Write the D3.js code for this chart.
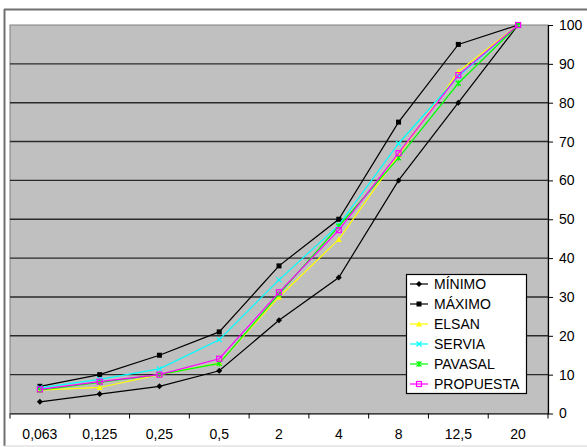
<!DOCTYPE html>
<html>
<head>
<meta charset="utf-8">
<script src="https://cdn.jsdelivr.net/npm/d3@7"></script>
<style>
  html, body { margin: 0; padding: 0; background: #ffffff; }
  svg { display: block; font-family: Arial, "Liberation Sans", sans-serif; }
</style>
</head>
<body>
<svg id="chart" width="587" height="447"></svg>
<script>
// Sieve sizes (mm) and passing percentages per curve
const categories = ["0,063", "0,125", "0,25", "0,5", "2", "4", "8", "12,5", "20"];
const yTicks = [0, 10, 20, 30, 40, 50, 60, 70, 80, 90, 100];

const minimo    = [3, 5, 7, 11, 24, 35, 60, 80, 100];
const maximo    = [7, 10, 15, 21, 38, 50, 75, 95, 100];
const elsan     = [6, 6.7, 10, 13, 30, 44.8, 66.5, 88, 100];
const servia    = [6.6, 8.8, 11.5, 19, 34.4, 48.5, 69.5, 86.8, 100];
const pavasal   = [6, 8, 10, 12.9, 30.7, 48.2, 65.8, 85, 100];
const propuesta = [6.2, 8.2, 10, 14.1, 31.2, 47.2, 67, 87.1, 100];

const seriesNames = ["MÍNIMO", "MÁXIMO", "ELSAN", "SERVIA", "PAVASAL", "PROPUESTA"];
const seriesColors = ["#000000", "#000000", "#ffff00", "#00ffff", "#00ff00", "#ff00ff"];
const seriesMarkers = ["diamond", "square", "triangle", "cross", "star", "openSquare"];
const seriesValues = [minimo, maximo, elsan, servia, pavasal, propuesta];

const svg = d3.select("#chart");

const plot = { left: 10, right: 548, top: 25, bottom: 413.5 };

const x = d3.scaleBand().domain(categories).range([plot.left, plot.right]).padding(0);
const y = d3.scaleLinear().domain([0, 100]).range([plot.bottom, plot.top]);

// Outer chart frame
svg.append("line").attr("x1", 4).attr("x2", 587).attr("y1", 9.5).attr("y2", 9.5)
  .attr("stroke", "#707070").attr("stroke-width", 2);
svg.append("line").attr("x1", 4.5).attr("x2", 4.5).attr("y1", 9).attr("y2", 446)
  .attr("stroke", "#707070").attr("stroke-width", 2);
svg.append("line").attr("x1", 4).attr("x2", 587).attr("y1", 446).attr("y2", 446)
  .attr("stroke", "#d4d4d4").attr("stroke-width", 1);

// Plot area background
svg.append("rect")
  .attr("x", plot.left).attr("y", plot.top)
  .attr("width", plot.right - plot.left).attr("height", plot.bottom - plot.top)
  .attr("fill", "#c0c0c0").attr("stroke", "#808080").attr("stroke-width", 1);

// Horizontal gridlines
svg.append("g").selectAll("line")
  .data(yTicks.filter(d => d > 0 && d < 100))
  .join("line")
  .attr("x1", plot.left).attr("x2", plot.right)
  .attr("y1", d => y(d)).attr("y2", d => y(d))
  .attr("stroke", "#2a2a2a").attr("stroke-width", 1.4);

// Right value axis
const yAxis = svg.append("g")
  .attr("transform", `translate(${plot.right},0)`)
  .call(d3.axisRight(y).tickValues(yTicks).tickSize(5).tickPadding(6).tickSizeOuter(0));
yAxis.select(".domain").attr("stroke", "#000").attr("stroke-width", 1.2);
yAxis.selectAll(".tick line").attr("stroke", "#000");
yAxis.selectAll("text").attr("font-size", 14).attr("fill", "#000")
  .attr("font-family", "Arial, 'Liberation Sans', sans-serif");

// Bottom category axis: labels centred in bands, ticks on band boundaries
const xAxis = svg.append("g")
  .attr("transform", `translate(0,${plot.bottom})`)
  .call(d3.axisBottom(x).tickSize(0).tickPadding(16).tickSizeOuter(0));
xAxis.select(".domain").attr("stroke", "#000").attr("stroke-width", 1.2);
xAxis.selectAll("text").attr("font-size", 14).attr("fill", "#000")
  .attr("font-family", "Arial, 'Liberation Sans', sans-serif");
const boundaries = categories.map(c => x(c)).concat([x(categories[categories.length - 1]) + x.bandwidth()]);
xAxis.append("g").selectAll("line")
  .data(boundaries)
  .join("line")
  .attr("x1", d => d).attr("x2", d => d)
  .attr("y1", 0).attr("y2", 5)
  .attr("stroke", "#000");

// Marker drawing
function drawMarker(g, type, color, cx, cy) {
  const r = 2.5;
  if (type === "diamond") {
    g.append("path").attr("d", `M${cx},${cy - 3}L${cx + 3},${cy}L${cx},${cy + 3}L${cx - 3},${cy}Z`)
      .attr("fill", color);
  } else if (type === "square") {
    g.append("rect").attr("x", cx - r).attr("y", cy - r).attr("width", 2 * r).attr("height", 2 * r)
      .attr("fill", color);
  } else if (type === "triangle") {
    g.append("path").attr("d", `M${cx},${cy - 3}L${cx + 3},${cy + 2.5}L${cx - 3},${cy + 2.5}Z`)
      .attr("fill", color);
  } else if (type === "cross") {
    g.append("path").attr("d", `M${cx - r},${cy - r}L${cx + r},${cy + r}M${cx + r},${cy - r}L${cx - r},${cy + r}`)
      .attr("stroke", color).attr("stroke-width", 1.2).attr("fill", "none");
  } else if (type === "star") {
    g.append("path").attr("d", `M${cx - r},${cy - r}L${cx + r},${cy + r}M${cx + r},${cy - r}L${cx - r},${cy + r}M${cx},${cy - 3}L${cx},${cy + 3}`)
      .attr("stroke", color).attr("stroke-width", 1.2).attr("fill", "none");
  } else if (type === "openSquare") {
    g.append("rect").attr("x", cx - r).attr("y", cy - r).attr("width", 2 * r).attr("height", 2 * r)
      .attr("fill", "none").attr("stroke", color).attr("stroke-width", 1.2);
  }
}

const line = d3.line()
  .x((d, i) => x(categories[i]) + x.bandwidth() / 2)
  .y(d => y(d));

seriesValues.forEach((vals, s) => {
  const g = svg.append("g");
  g.append("path").datum(vals)
    .attr("d", line)
    .attr("fill", "none")
    .attr("stroke", seriesColors[s])
    .attr("stroke-width", 1.2);
  vals.forEach((v, i) => {
    drawMarker(g, seriesMarkers[s], seriesColors[s], x(categories[i]) + x.bandwidth() / 2, y(v));
  });
});

// Legend
const legend = svg.append("g");
legend.append("rect")
  .attr("x", 406.5).attr("y", 274.5).attr("width", 120).attr("height", 119)
  .attr("fill", "#ffffff").attr("stroke", "#000").attr("stroke-width", 1.2);
seriesNames.forEach((name, s) => {
  const cy = 284 + s * 20;
  legend.append("line").attr("x1", 410).attr("x2", 428).attr("y1", cy).attr("y2", cy)
    .attr("stroke", seriesColors[s]).attr("stroke-width", 1.2);
  drawMarker(legend, seriesMarkers[s], seriesColors[s], 419, cy);
  legend.append("text")
    .attr("x", 434).attr("y", cy).attr("dy", "0.36em")
    .attr("font-size", 14).attr("fill", "#000")
    .text(name);
});
</script>
</body>
</html>
